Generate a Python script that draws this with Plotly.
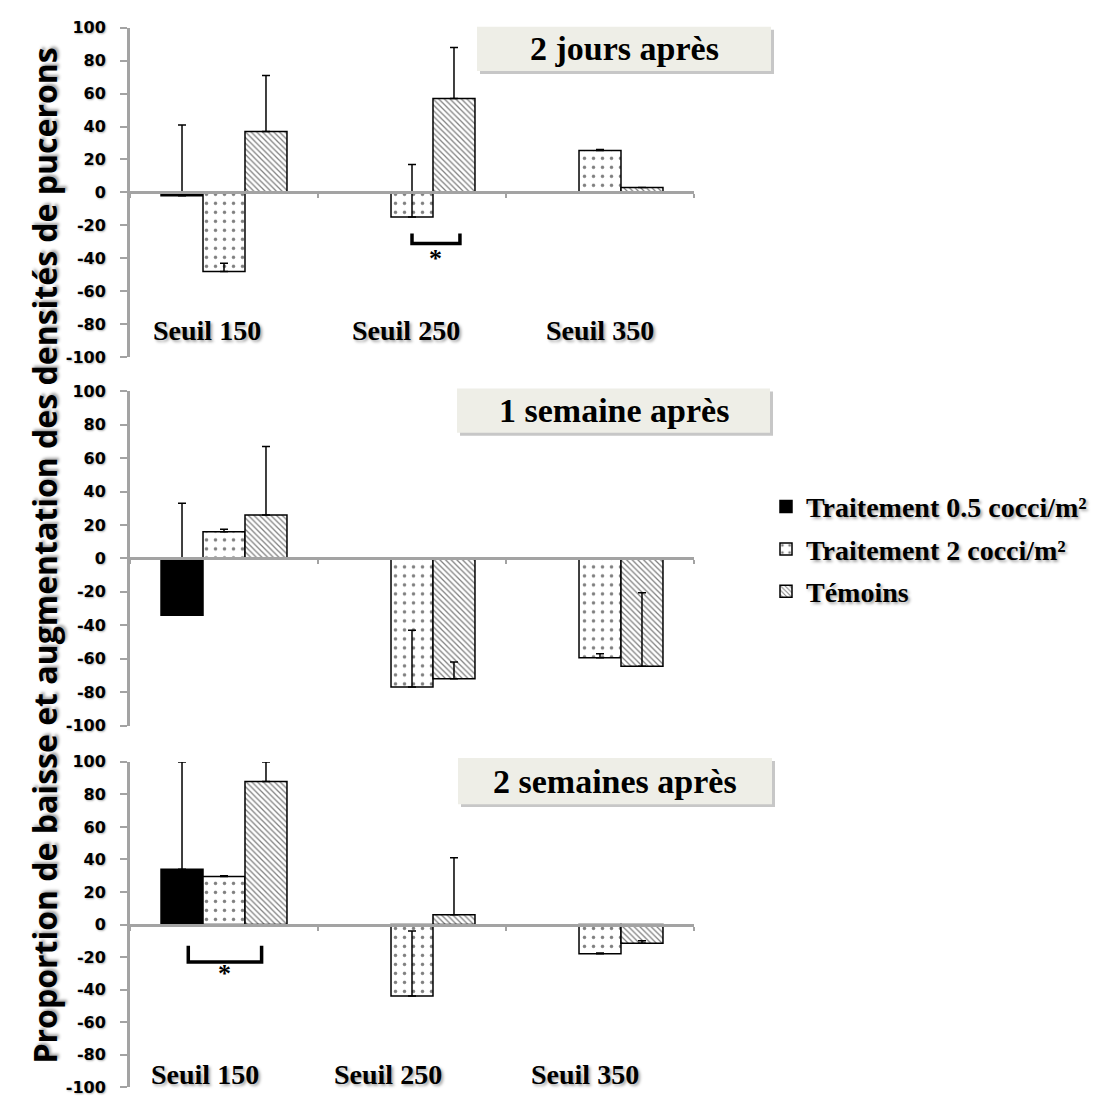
import plotly.graph_objects as go

# ---------------- data ----------------
categories = ["Seuil 150", "Seuil 250", "Seuil 350"]
series_names = ["Traitement 0.5 cocci/m²", "Traitement 2 cocci/m²", "Témoins"]
panel_titles = ["2 jours après", "1 semaine après", "2 semaines après"]
y_ticks = [100, 80, 60, 40, 20, 0, -20, -40, -60, -80, -100]

# 2 jours après
j2_black = [-2, None, None]
j2_black_err = [43, 0, 0]
j2_dots = [-48, -15, 25.5]
j2_dots_err = [5, 32, 0.5]
j2_hatch = [37, 57, 3]
j2_hatch_err = [34, 31, 0]

# 1 semaine après
s1_black = [-34, None, None]
s1_black_err = [67, 0, 0]
s1_dots = [16, -77, -59.5]
s1_dots_err = [1.5, 34, 2.5]
s1_hatch = [26, -72, -64.5]
s1_hatch_err = [41, 10, 44]

# 2 semaines après
s2_black = [34, None, None]
s2_black_err = [66, 0, 0]
s2_dots = [29.5, -44, -18]
s2_dots_err = [0.5, 40, 0.5]
s2_hatch = [88, 6, -11.5]
s2_hatch_err = [12, 35, 1.5]

panels = [
    (j2_black, j2_black_err, j2_dots, j2_dots_err, j2_hatch, j2_hatch_err),
    (s1_black, s1_black_err, s1_dots, s1_dots_err, s1_hatch, s1_hatch_err),
    (s2_black, s2_black_err, s2_dots, s2_dots_err, s2_hatch, s2_hatch_err),
]

# ---------------- layout geometry ----------------
# the page body has an 8px margin, so the figure is sized to fit the window
OFF = 8
W, H = 1116 - OFF, 1106 - OFF


def px2x(px):
    return (px - OFF) / W


def py2y(py):
    return 1 - (py - OFF) / H


x_dom = [px2x(130), px2x(694)]
y_doms = [
    [py2y(354), py2y(19)],
    [py2y(729), py2y(389)],
    [py2y(1097), py2y(766)],
]
GRAY = "#a3a3a3"
SERIF = "Liberation Serif"
SHADOW = "2px 2px 3px rgba(0,0,0,0.35)"

styles = [
    dict(color="black", line=dict(color="black", width=1.5)),
    dict(color="white", line=dict(color="black", width=1.5),
         pattern=dict(shape=".", size=9, solidity=0.12, fgcolor="black", bgcolor="white")),
    dict(color="white", line=dict(color="black", width=1.5),
         pattern=dict(shape="\\", size=4, solidity=0.32, fgcolor="black", bgcolor="white")),
]

fig = go.Figure()
for p, data in enumerate(panels):
    ax = "" if p == 0 else str(p + 1)
    vals = [data[0], data[2], data[4]]
    errs = [data[1], data[3], data[5]]
    for s in range(3):
        fig.add_trace(go.Bar(
            x=categories, y=vals[s], name=series_names[s],
            xaxis="x" + ax, yaxis="y" + ax,
            marker=styles[s],
            legendgroup="g%d" % s,
            showlegend=(p == 0),
            error_y=dict(type="data", symmetric=False, array=errs[s],
                         arrayminus=[0, 0, 0], color="black", thickness=1.5, width=4),
        ))

layout = dict(
    width=W, height=H,
    margin=dict(l=0, r=0, t=0, b=0),
    paper_bgcolor="white", plot_bgcolor="white",
    barmode="group", bargap=0.33, bargroupgap=0,
    showlegend=True,
    legend=dict(x=px2x(766), y=py2y(481), xanchor="left", yanchor="top",
                font=dict(family=SERIF, size=28, color="black", weight="bold", shadow=SHADOW),
                tracegroupgap=3, bgcolor="rgba(0,0,0,0)"),
)
for p in range(3):
    ax = "" if p == 0 else str(p + 1)
    d = y_doms[p]
    layout["xaxis" + ax] = dict(
        domain=x_dom, anchor="free", position=(d[0] + d[1]) / 2,
        range=[-0.5, 2.5], showline=True, linecolor=GRAY, linewidth=3,
        ticks="outside", tickson="boundaries", ticklen=4, tickwidth=2, tickcolor=GRAY,
        showticklabels=False, showgrid=False, zeroline=False, fixedrange=True,
    )
    layout["yaxis" + ax] = dict(
        domain=d, anchor="x" + ax, range=[-100, 100],
        tickvals=y_ticks, ticktext=[str(v) for v in y_ticks],
        showline=True, linecolor=GRAY, linewidth=3,
        ticks="outside", ticklen=7, tickwidth=2, tickcolor=GRAY,
        ticklabelstandoff=11,
        tickfont=dict(family="DejaVu Sans", size=16, color="black", weight="bold",
                      shadow="1px 1px 2px rgba(0,0,0,0.3)"),
        showgrid=False, zeroline=False, fixedrange=True,
    )
fig.update_layout(**layout)

# panel title boxes
boxes = [(477, 18, 771, 63), (457, 386, 770, 431), (458, 762, 772, 809)]
for p, (x0, y0, x1, y1) in enumerate(boxes):
    fig.add_shape(type="rect", xref="paper", yref="paper",
                  x0=px2x(x0 + 3), x1=px2x(x1 + 3), y0=py2y(y1 + 3), y1=py2y(y0 + 3),
                  fillcolor="rgba(0,0,0,0.22)", line=dict(width=0), layer="below")
    fig.add_shape(type="rect", xref="paper", yref="paper",
                  x0=px2x(x0), x1=px2x(x1), y0=py2y(y1), y1=py2y(y0),
                  fillcolor="#eeeee7", line=dict(width=0), layer="below")
    fig.add_annotation(xref="paper", yref="paper", x=px2x((x0 + x1) / 2), y=py2y((y0 + y1) / 2),
                       text=panel_titles[p], showarrow=False, xanchor="center", yanchor="middle",
                       font=dict(family=SERIF, size=34, color="black", weight="bold"))

# category labels (top and bottom panels)
label_offsets = {0: ([-0.09, -0.03, 0.0], -84), 2: ([-0.1, -0.13, -0.08], -92.5)}
for p, (offs, yv) in label_offsets.items():
    ax = "" if p == 0 else str(p + 1)
    for i, c in enumerate(categories):
        fig.add_annotation(xref="x" + ax, yref="y" + ax, x=i + offs[i], y=yv, text=c,
                           showarrow=False, xanchor="center", yanchor="middle",
                           font=dict(family=SERIF, size=28, color="black", weight="bold",
                                     shadow=SHADOW))

# significance brackets
brackets = [("", 1.0, 1.255, -25, -31, -40), ("3", -0.19, 0.2, -13, -23, -30)]
for ax, xa, xb, ytop, ybot, ystar in brackets:
    fig.add_shape(type="path", xref="x" + ax, yref="y" + ax,
                  path=f"M {xa},{ytop} L {xa},{ybot} L {xb},{ybot} L {xb},{ytop}",
                  line=dict(color="black", width=3.5))
    fig.add_annotation(xref="x" + ax, yref="y" + ax, x=(xa + xb) / 2, y=ystar, text="*",
                       showarrow=False, font=dict(family=SERIF, size=26, color="black", weight="bold"))

# y-axis title
fig.add_annotation(xref="paper", yref="paper", x=px2x(45), y=py2y(556),
                   text="Proportion de baisse et augmentation des densités de pucerons",
                   textangle=-90, showarrow=False, xanchor="center", yanchor="middle",
                   font=dict(family="Open Sans", size=32, color="black", weight="bold",
                             shadow=SHADOW))

fig.write_html("out.html")
